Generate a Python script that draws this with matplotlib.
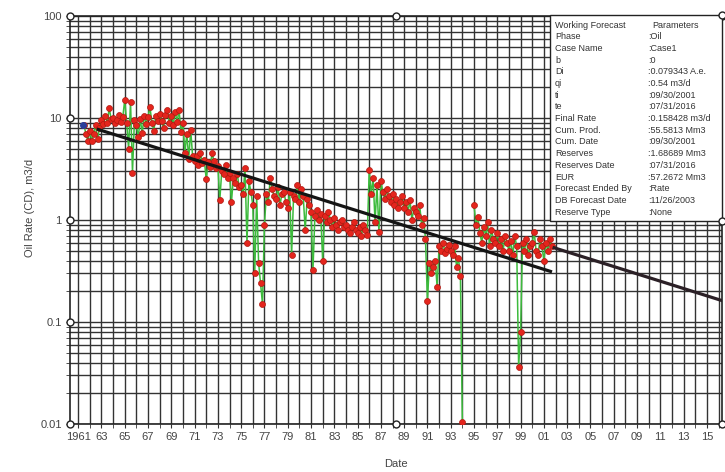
import numpy as np
import matplotlib.pyplot as plt
from matplotlib.patches import Rectangle
from matplotlib.ticker import LogLocator, NullFormatter

plt.rcParams['font.family'] = ['Liberation Sans', 'DejaVu Sans']

# Oil rate history, m3/d, one value every two months starting 1961.5
t0 = 1961.5
rate_60s = [8.5, 7.0, 6.0,
            7.5, 6.0, 7.0, 8.5, 6.2, 8.0,        # 1962
            9.5, 8.8, 10.5, 9.0, 12.5, 9.8,      # 1963
            10.0, 8.9, 9.5, 10.8, 9.2, 10.2,     # 1964
            15.0, 9.0, 5.0, 14.5, 2.9, 9.5,      # 1965
            8.5, 6.5, 9.8, 7.1, 10.5, 8.8,       # 1966
            10.2, 12.8, 9.0, 7.5, 10.5, 9.3,     # 1967
            11.0, 9.4, 8.0, 10.8, 12.0, 9.0,     # 1968
            10.5, 8.6, 11.5, 9.2, 12.0, 7.3]     # 1969
rate_70s = [8.9, 4.5, 7.0, 4.0, 7.6, 4.2,        # 1970
            3.8, 4.2, 3.5, 4.5, 3.6, 3.9,        # 1971
            2.5, 3.7, 3.3, 4.5, 3.8, 3.2,        # 1972
            3.4, 1.57, 3.0, 2.8, 3.5, 2.6,       # 1973
            2.9, 1.5, 2.6, 2.3, 2.8, 2.1,        # 1974
            2.2, 1.8, 3.2, 0.6, 2.4, 1.9,        # 1975
            1.4, 0.3, 1.7, 0.38, 0.24, 0.15,     # 1976
            0.9, 1.8, 1.5, 2.6, 2.0, 1.7,        # 1977
            1.6, 2.1, 1.4, 1.8, 1.9, 1.5,        # 1978
            1.3, 1.9, 0.45, 1.7, 1.6, 2.2]       # 1979
rate_80s = [1.5, 2.0, 1.7, 0.8, 1.6, 1.4,        # 1980
            1.2, 0.32, 1.1, 1.25, 1.0, 1.15,     # 1981
            0.4, 1.1, 0.95, 1.2, 1.0, 0.85,      # 1982
            1.05, 0.9, 0.8, 0.95, 1.0, 0.85,     # 1983
            0.9, 0.8, 0.75, 0.85, 0.95, 0.8,     # 1984
            0.75, 0.85, 0.7, 0.9, 0.8, 0.72,     # 1985
            3.1, 1.8, 2.6, 0.95, 2.2, 0.76,      # 1986
            2.4, 1.9, 1.6, 2.0, 1.7, 1.5,        # 1987
            1.8, 1.4, 1.6, 1.3, 1.5, 1.7,        # 1988
            1.3, 1.5, 1.2, 1.57, 1.0, 1.3]       # 1989
rate_90s = [1.2, 1.1, 1.4, 0.9, 1.05, 0.65,      # 1990
            0.16, 0.38, 0.3, 0.35, 0.4, 0.22,    # 1991
            0.55, 0.5, 0.6, 0.48, 0.52, 0.57,    # 1992
            0.5, 0.45, 0.55, 0.35, 0.42, 0.28,   # 1993
            0.0105, np.nan, np.nan, np.nan, np.nan, np.nan,  # 1994
            1.4, 0.9, 1.07, 0.75, 0.6, 0.85,     # 1995
            0.7, 0.95, 0.55, 0.8, 0.65, 0.6,     # 1996
            0.75, 0.55, 0.65, 0.5, 0.7, 0.6,     # 1997
            0.5, 0.62, 0.45, 0.7, 0.55, 0.036,   # 1998
            0.08, 0.6, 0.5, 0.65, 0.45, 0.55]    # 1999
rate_00s = [0.6, 0.76, 0.5, 0.45, 0.65, 0.55,    # 2000
            0.4, 0.6, 0.5, 0.65, 0.55]           # 2001

# Exponential fit over the history and forecast from 09/30/2001 to 07/31/2016
fit_years = [1962.6, 2001.7]
fit_rates = [7.8, 0.31]
fc_years = [2001.75, 2016.58]
fc_rates = [0.54, 0.158428]
first_year, first_rate = 1961.4, 8.5

params = [('Working Forecast', 'Parameters'),
          ('Phase', ':Oil'),
          ('Case Name', ':Case1'),
          ('b', ':0'),
          ('Di', ':0.079343 A.e.'),
          ('qi', ':0.54 m3/d'),
          ('ti', ':09/30/2001'),
          ('te', ':07/31/2016'),
          ('Final Rate', ':0.158428 m3/d'),
          ('Cum. Prod.', ':55.5813 Mm3'),
          ('Cum. Date', ':09/30/2001'),
          ('Reserves', ':1.68689 Mm3'),
          ('Reserves Date', ':07/31/2016'),
          ('EUR', ':57.2672 Mm3'),
          ('Forecast Ended By', ':Rate'),
          ('DB Forecast Date', ':11/26/2003'),
          ('Reserve Type', ':None')]

rates = np.array(rate_60s + rate_70s + rate_80s + rate_90s + rate_00s, dtype=float)
years = t0 + np.arange(len(rates)) / 6.0

W, H = 725, 472
fig = plt.figure(figsize=(W / 100, H / 100), dpi=100)
ax = fig.add_axes([70 / W, 1 - 424 / H, 652 / W, 408 / H])

ax.set_yscale('log')
ax.set_ylim(0.01, 100)
ax.set_xlim(1960.3, 2016.3)

gcol = '#333333'
xt = np.arange(1961, 2017, 2)
ax.set_xticks(xt)
ax.set_xticklabels(['1961'] + ['%02d' % (y % 100) for y in xt[1:]])
ax.set_xticks(np.arange(1961, 2017, 1), minor=True)
ax.set_yticks([0.01, 0.1, 1, 10, 100])
ax.set_yticklabels(['0.01', '0.1', '1', '10', '100'])
ax.yaxis.set_minor_locator(LogLocator(base=10, subs=np.arange(2, 10)))
ax.yaxis.set_minor_formatter(NullFormatter())
ax.grid(True, which='both', color=gcol, lw=1.0)
ax.set_axisbelow(True)
ax.tick_params(which='both', length=3, color=gcol, labelsize=8, labelcolor='#444444', pad=3)
for s in ax.spines.values():
    s.set_color('#222222')
    s.set_linewidth(1.2)

# production history
ax.plot(years, rates, color='#3dbb3d', lw=1.1, zorder=3)
ax.plot(years, rates, ls='', marker='o', ms=4.3, mfc='#e4251d', mec='#b01810', mew=0.5, zorder=4)
ax.plot([first_year], [first_rate], ls='', marker='o', ms=4, color='#2a3f9a', zorder=5)

# decline lines
ax.plot(fit_years, fit_rates, color='#141414', lw=2.3, solid_capstyle='butt', zorder=5)
ax.plot(fc_years, fc_rates, color='#2b2026', lw=2.3, solid_capstyle='butt', zorder=5)

# hollow handles on the axes frame
hx = [0, 0.5, 1, 0, 0.5, 1, 0, 0, 0]
hy = [0, 0, 0, 1, 1, 1, 0.25, 0.5, 0.75]
ax.plot(hx, hy, ls='', marker='o', ms=5, mfc='white', mec='#222222', mew=1.0,
        transform=ax.transAxes, clip_on=False, zorder=8)

ax.set_ylabel('Oil Rate (CD), m3/d', fontsize=8, color='#444444')
ax.yaxis.set_label_coords(-0.054, 0.53)
ax.set_xlabel('Date', fontsize=8, color='#444444')
ax.xaxis.set_label_coords(0.5, -0.085)

# parameter box
bx0, by0, bx1, by1 = 550, 15, 722, 221
box = Rectangle((bx0 / W, 1 - by1 / H), (bx1 - bx0) / W, (by1 - by0) / H,
                transform=fig.transFigure, facecolor='white', edgecolor='#222222',
                lw=1.0, zorder=10)
fig.patches.append(box)
fig.lines.append(plt.Line2D([bx1 / W, bx1 / W], [1 - by0 / H, 1 - by1 / H], ls='',
                            marker='o', ms=5, mfc='white', mec='#222222',
                            transform=fig.transFigure, zorder=11))
for i, (k, v) in enumerate(params):
    yy = 1 - (25 + i * 11.7) / H
    fig.text(555 / W, yy, k, fontsize=6.5, color='#333333', va='center', zorder=12)
    fig.text((652 if i == 0 else 648) / W, yy, v, fontsize=6.5, color='#333333',
             va='center', zorder=12)

fig.savefig('out.png', dpi=100, facecolor='white')
